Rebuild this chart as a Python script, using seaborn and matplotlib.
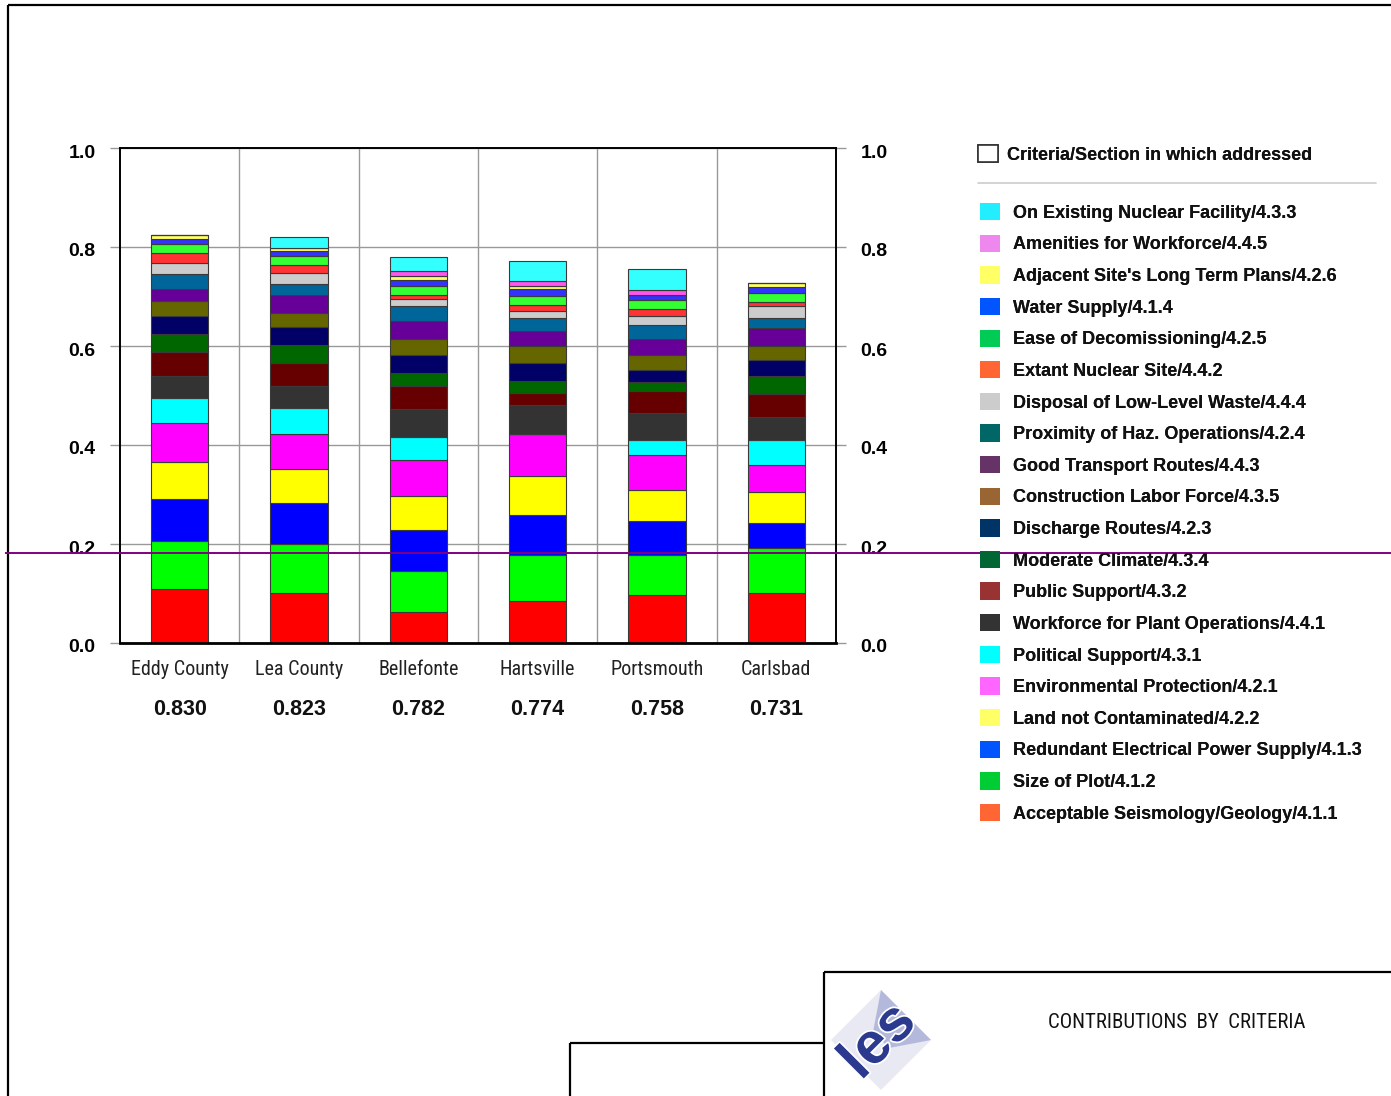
import numpy as np
import pandas as pd
import matplotlib
matplotlib.use("Agg")
import matplotlib.pyplot as plt
import seaborn as sns
from matplotlib.patches import Patch, Polygon
from matplotlib.lines import Line2D
from matplotlib import font_manager
import matplotlib.transforms as mtransforms
import matplotlib.patheffects as pe

# ---------------- data ----------------
sites = ["Eddy County", "Lea County", "Bellefonte", "Hartsville", "Portsmouth", "Carlsbad"]
totals = ["0.830", "0.823", "0.782", "0.774", "0.758", "0.731"]

# stacking order, bottom to top
criteria = [
    "Acceptable Seismology/Geology/4.1.1",
    "Size of Plot/4.1.2",
    "Redundant Electrical Power Supply/4.1.3",
    "Land not Contaminated/4.2.2",
    "Environmental Protection/4.2.1",
    "Political Support/4.3.1",
    "Workforce for Plant Operations/4.4.1",
    "Public Support/4.3.2",
    "Moderate Climate/4.3.4",
    "Discharge Routes/4.2.3",
    "Construction Labor Force/4.3.5",
    "Good Transport Routes/4.4.3",
    "Proximity of Haz. Operations/4.2.4",
    "Disposal of Low-Level Waste/4.4.4",
    "Extant Nuclear Site/4.4.2",
    "Ease of Decomissioning/4.2.5",
    "Water Supply/4.1.4",
    "Adjacent Site's Long Term Plans/4.2.6",
    "Amenities for Workforce/4.4.5",
    "On Existing Nuclear Facility/4.3.3",
]

eddy_county = [0.110, 0.097, 0.084, 0.075, 0.079, 0.049, 0.046, 0.047, 0.037, 0.037,
               0.030, 0.024, 0.030, 0.022, 0.021, 0.018, 0.010, 0.009, 0.000, 0.000]
lea_county = [0.101, 0.098, 0.083, 0.070, 0.071, 0.052, 0.044, 0.047, 0.036, 0.037,
              0.028, 0.036, 0.023, 0.021, 0.016, 0.019, 0.009, 0.007, 0.000, 0.022]
bellefonte = [0.062, 0.083, 0.083, 0.069, 0.073, 0.047, 0.055, 0.047, 0.027, 0.035,
              0.034, 0.036, 0.029, 0.014, 0.009, 0.018, 0.012, 0.008, 0.010, 0.029]
hartsville = [0.085, 0.092, 0.082, 0.079, 0.084, 0.000, 0.059, 0.025, 0.024, 0.036,
              0.034, 0.030, 0.027, 0.013, 0.012, 0.019, 0.014, 0.007, 0.010, 0.040]
portsmouth = [0.096, 0.081, 0.069, 0.063, 0.070, 0.032, 0.053, 0.046, 0.017, 0.024,
              0.031, 0.033, 0.027, 0.019, 0.014, 0.017, 0.012, 0.000, 0.010, 0.042]
carlsbad = [0.101, 0.090, 0.052, 0.062, 0.055, 0.051, 0.045, 0.047, 0.037, 0.032,
            0.029, 0.036, 0.020, 0.024, 0.008, 0.018, 0.012, 0.008, 0.000, 0.000]

bar_colors = ["#FF0000", "#00FF00", "#0000FF", "#FFFF00", "#FF00FF", "#00FFFF",
              "#333333", "#660000", "#006600", "#000066", "#666600", "#660099",
              "#006699", "#CCCCCC", "#FF3333", "#33FF33", "#3333FF", "#FFFF66",
              "#FF55EE", "#33FFFF"]
legend_colors = ["#FF6633", "#00CC33", "#0055FF", "#FFFF66", "#FF66FF", "#00FFFF",
                 "#333333", "#993333", "#006633", "#003366", "#996633", "#663366",
                 "#006666", "#CCCCCC", "#FF6633", "#00CC55", "#0055FF", "#FFFF66",
                 "#EE88EE", "#22EEFF"]

site_values = [eddy_county, lea_county, bellefonte, hartsville, portsmouth, carlsbad]
rows = []
for s, vals in zip(sites, site_values):
    for c, v in zip(criteria, vals):
        rows.append({"site": s, "criterion": c, "value": v})
df = pd.DataFrame(rows)
df["criterion"] = pd.Categorical(df["criterion"], categories=criteria, ordered=True)
df["site"] = pd.Categorical(df["site"], categories=sites, ordered=True)
df = df.sort_values(["site", "criterion"])
df["bottom"] = df.groupby("site", observed=True)["value"].cumsum() - df["value"]

# ---------------- style ----------------
sns.set_theme(style="white")
plt.rcParams["font.family"] = ["Liberation Sans", "DejaVu Sans"]

# look for a narrow sans font (the reference uses an Arial-Narrow-like face)
ttf = font_manager.fontManager.ttflist
names = {f.name for f in ttf}
narrow_props = None
for cand in ["Liberation Sans Narrow", "Arial Narrow", "Roboto Condensed", "Open Sans Condensed"]:
    if cand in names:
        narrow_props = dict(family=[cand, "DejaVu Sans"])
        narrow_scale = 1.0
        break
if narrow_props is None:
    narrow_props = dict(family=["Liberation Sans", "DejaVu Sans"])
    narrow_scale = 0.83

W, H = 1391, 1096
fig = plt.figure(figsize=(W / 100, H / 100), dpi=100)
fig.patch.set_facecolor("white")

def fx(px):
    return px / W

def fy(py):
    return 1 - py / H

ax = fig.add_axes([fx(120), fy(643), fx(836) - fx(120), fy(148) - fy(643)])

for i, c in enumerate(criteria):
    sub = df[df["criterion"] == c].sort_values("site")
    sns.barplot(data=sub, x="site", y="value", order=sites, bottom=sub["bottom"].to_numpy(),
                color=bar_colors[i], saturation=1, width=0.48, errorbar=None,
                edgecolor="#3a3a3a", linewidth=0.8, ax=ax)

ax.set_xlim(-0.5, 5.5)
ax.set_ylim(0, 1.0)
ax.set_xlabel("")
ax.set_ylabel("")
ax.set_yticks([0.0, 0.2, 0.4, 0.6, 0.8, 1.0])
ax.yaxis.set_major_formatter(matplotlib.ticker.FormatStrFormatter("%.1f"))
ax.set_xticks([0.5, 1.5, 2.5, 3.5, 4.5], minor=True)
ax.set_axisbelow(True)
ax.yaxis.grid(True, which="major", color="#999999", lw=1.0)
ax.xaxis.grid(True, which="minor", color="#999999", lw=1.0)
ax.xaxis.grid(False, which="major")
for sp in ax.spines.values():
    sp.set_visible(True)
    sp.set_color("black")
    sp.set_linewidth(1.4)
ax.spines["bottom"].set_linewidth(2)

ax.tick_params(axis="y", which="major", left=True, right=True, labelleft=True, labelright=True,
               length=7.2, width=1, color="#999999", direction="out", pad=10.5,
               labelsize=14, labelcolor="black")
for t in ax.yaxis.get_major_ticks():
    t.label1.set_fontweight("bold")
    t.label2.set_fontweight("bold")
    t.label1.set_y(t.label1.get_position()[1])
# shift y tick labels ~3px down to match reference baseline
offset = mtransforms.ScaledTranslation(0, -3 / 100, fig.dpi_scale_trans)
for t in ax.yaxis.get_major_ticks():
    t.label1.set_transform(t.label1.get_transform() + offset)
    t.label2.set_transform(t.label2.get_transform() + offset)

ax.tick_params(axis="x", which="both", length=0, pad=12.5, labelsize=14.5 * narrow_scale,
               labelcolor="#222222")
for lbl in ax.get_xticklabels():
    lbl.set_fontfamily(narrow_props["family"])

trans = mtransforms.blended_transform_factory(ax.transData, ax.transAxes)
for i, tot in enumerate(totals):
    ax.text(i, -0.1345, tot, transform=trans, ha="center", va="center",
            fontsize=15.5, fontweight="bold", color="#111111")

# ---------------- legend ----------------
fs = 13
handles = [Patch(facecolor=legend_colors[i], edgecolor="none") for i in range(len(criteria))][::-1]
labels = criteria[::-1]
leg = fig.legend(handles, labels, loc="upper left", bbox_to_anchor=(fx(980), fy(203)),
                 bbox_transform=fig.transFigure, frameon=False, borderpad=0, borderaxespad=0,
                 handlelength=1.1, handleheight=1.1, handletextpad=0.75, labelspacing=0.71,
                 prop={"size": fs, "weight": "bold"})
for t in leg.get_texts():
    t.set_color("#111111")

head = fig.legend([Patch(facecolor="white", edgecolor="#333333", linewidth=1.2)],
                  ["Criteria/Section in which addressed"], loc="upper left",
                  bbox_to_anchor=(fx(978), fy(145)), bbox_transform=fig.transFigure,
                  frameon=False, borderpad=0, borderaxespad=0, handlelength=1.1,
                  handleheight=1.1, handletextpad=0.5, prop={"size": fs, "weight": "bold"})
for t in head.get_texts():
    t.set_color("#111111")
fig.add_artist(head)
fig.add_artist(leg)
fig.add_artist(Line2D([fx(978), fx(1376)], [fy(183), fy(183)], color="#cccccc", lw=1.2))

# ---------------- frame / title block ----------------
def fline(x0, y0, x1, y1, lw=2, color="black"):
    fig.add_artist(Line2D([fx(x0), fx(x1)], [fy(y0), fy(y1)], color=color, lw=lw,
                          solid_capstyle="butt"))

fline(8, 5, 1391, 5, lw=1.6)
fline(8, 5, 8, 1096, lw=1.6)
fline(824, 972, 1391, 972, lw=1.6)
fline(824, 972, 824, 1096, lw=1.6)
fline(570, 1043, 824, 1043, lw=1.6)
fline(570, 1043, 570, 1096, lw=1.6)

# scan artifact line across the page
fline(5, 553, 1391, 553, lw=1.4, color="#800080")

# logo
cx, cy, r = 881, 1040, 50
top = (fx(cx), fy(cy - r)); right = (fx(cx + r), fy(cy))
bot = (fx(cx), fy(cy + r)); left = (fx(cx - r), fy(cy))
fig.add_artist(Polygon([left, top, right, bot], closed=True, transform=fig.transFigure,
                       facecolor="#E8E9F3", edgecolor="none"))
fig.add_artist(Polygon([top, right, (fx(cx + 8), fy(cy + 8)), (fx(cx - 8), fy(cy - 8))],
                       closed=True, transform=fig.transFigure,
                       facecolor="#B4B9DC", edgecolor="none"))
fig.text(fx(cx - 2), fy(cy + 2), "les", rotation=45, ha="center", va="center", fontsize=42,
         fontweight="bold", color="#2B3A8E",
         path_effects=[pe.withStroke(linewidth=2.5, foreground="white")])

fig.text(fx(1177), fy(1022), "CONTRIBUTIONS  BY  CRITERIA", ha="center", va="center",
         fontsize=14 * narrow_scale * 1.07, family=narrow_props["family"], color="#111111")

fig.savefig("out.png", dpi=100, facecolor="white")
